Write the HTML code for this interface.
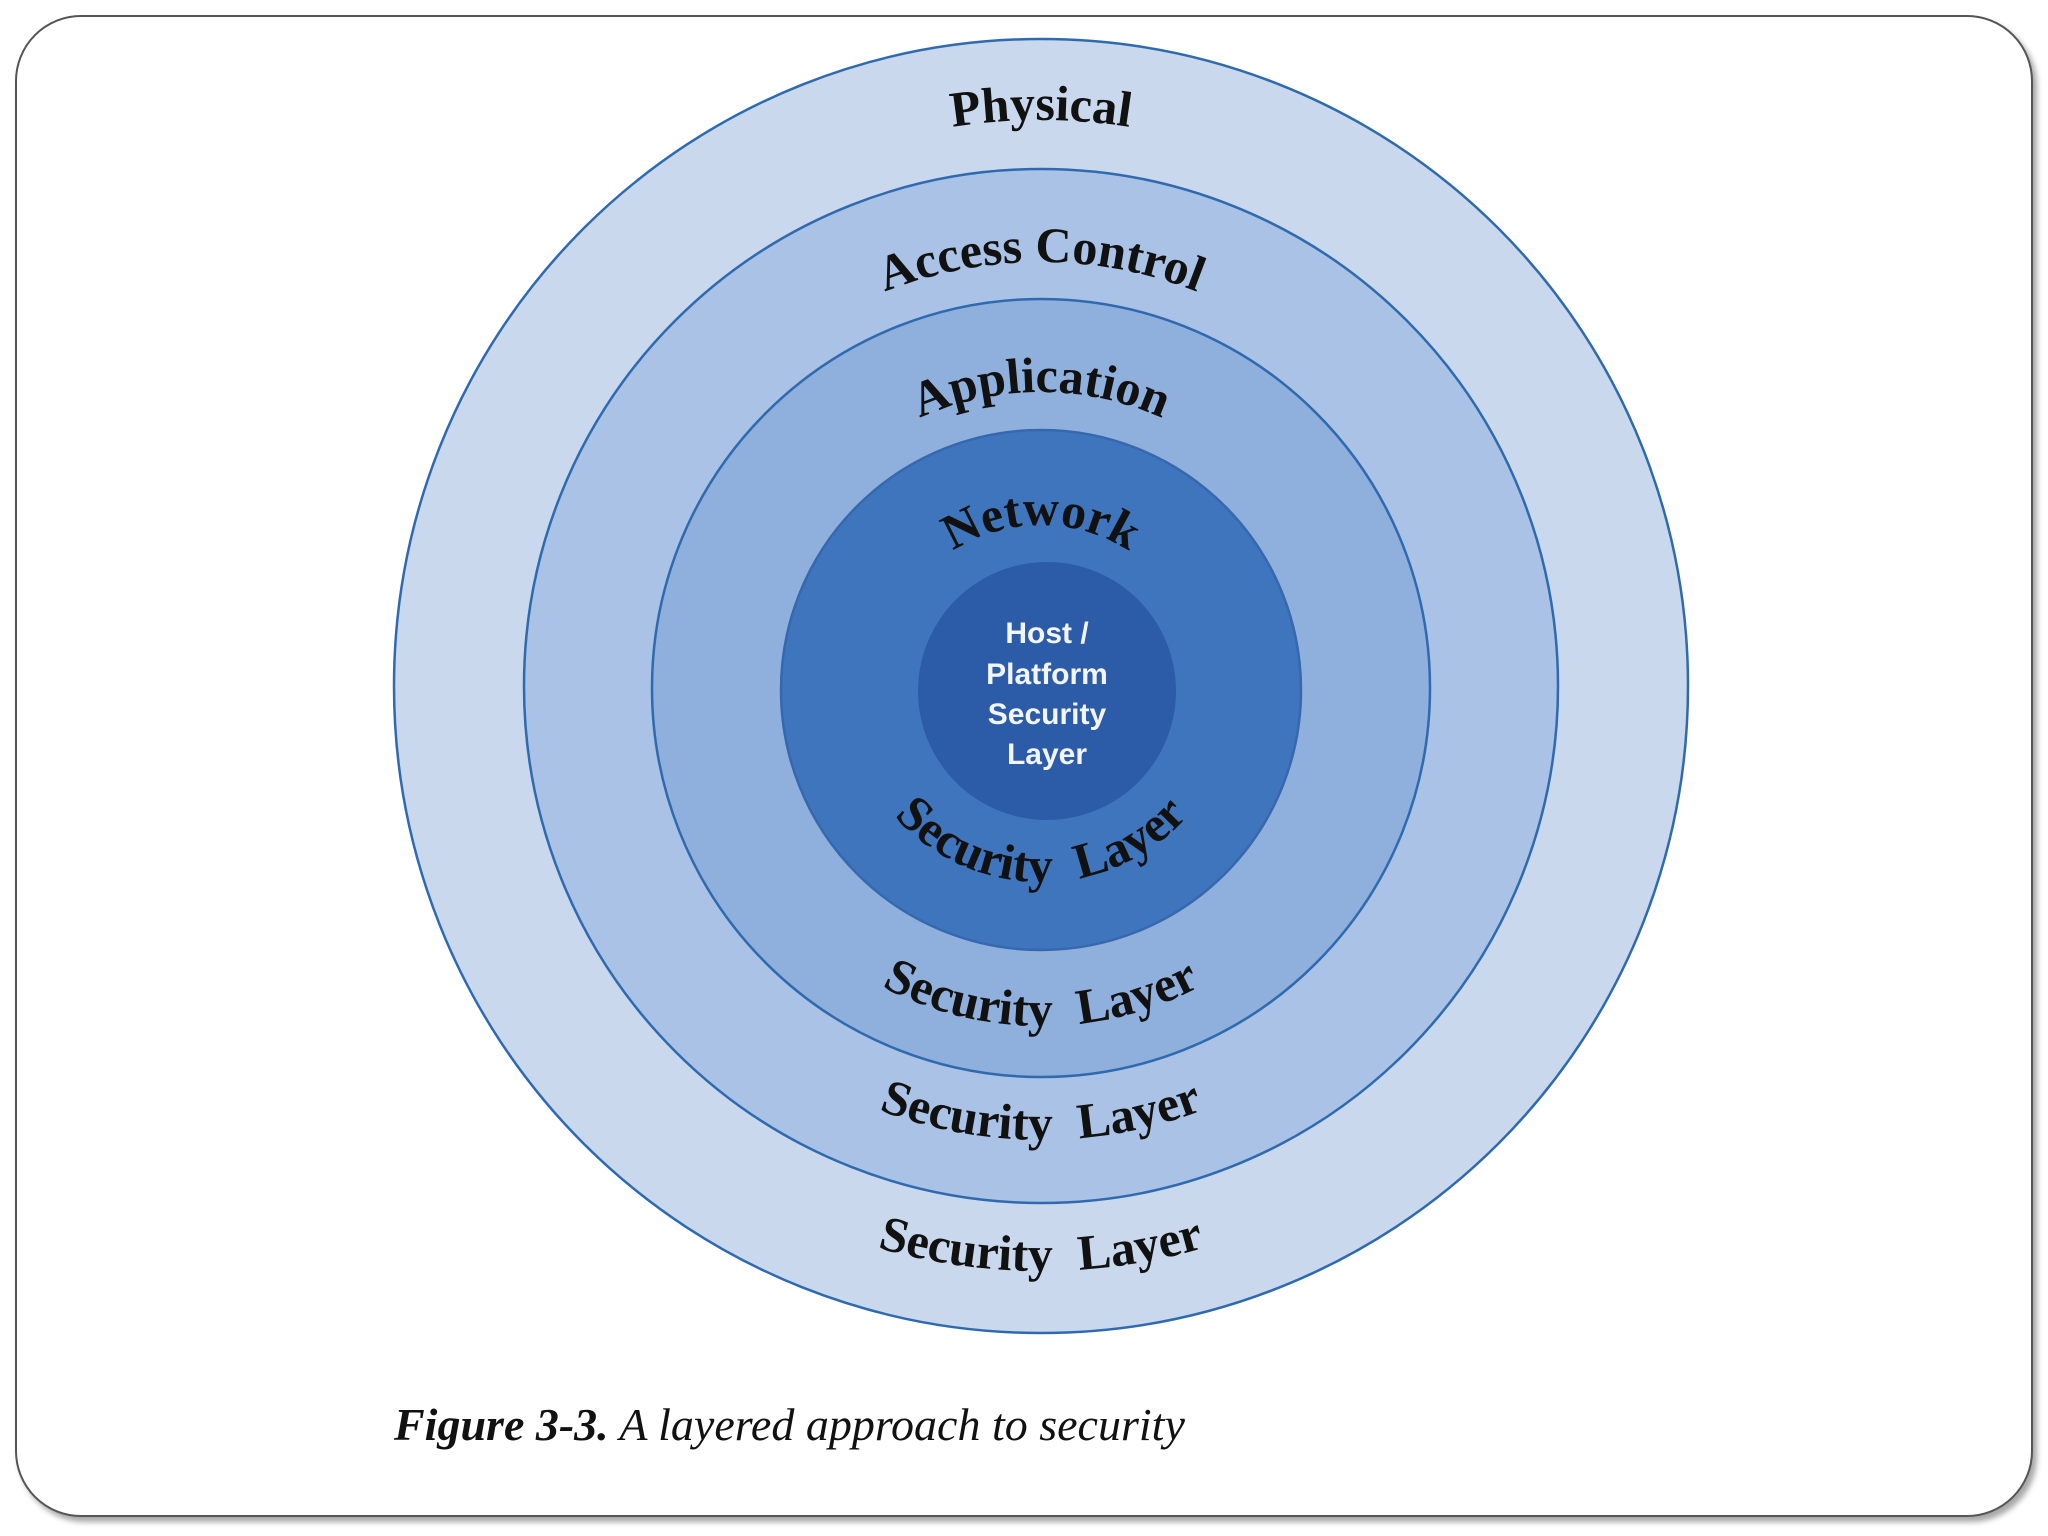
<!DOCTYPE html>
<html><head><meta charset="utf-8"><style>
html,body{margin:0;padding:0;background:#fff;width:2048px;height:1536px;overflow:hidden}
.frame{position:absolute;left:15px;top:15px;width:2014px;height:1498px;border:2px solid #555;border-radius:66px;box-shadow:4px 5px 6px rgba(0,0,0,0.35);background:#fff}
svg{position:absolute;left:0;top:0}
</style></head><body>
<div class="frame"></div>
<svg width="2048" height="1536" viewBox="0 0 2048 1536">
<defs>
<path id="t1" d="M475,686 A566,566 0 0 1 1607,686"/>
<path id="t2" d="M617,686 A424,424 0 0 1 1465,686"/>
<path id="t3" d="M747,686 A294,294 0 0 1 1335,686"/>
<path id="t4" d="M880,686 A161,161 0 0 1 1202,686"/>
<path id="b1" d="M845,686 A196,196 0 0 0 1237,686"/>
<path id="b2" d="M701,686 A340,340 0 0 0 1381,686"/>
<path id="b3" d="M587,686 A454,454 0 0 0 1495,686"/>
<path id="b4" d="M456,686 A585,585 0 0 0 1626,686"/>
</defs>
<g stroke="#2f6aaf" stroke-width="2.5">
<circle cx="1041" cy="686" r="647" fill="#c9d8ed"/>
<circle cx="1041" cy="686" r="517" fill="#a9c2e5"/>
<circle cx="1041" cy="688" r="389" fill="#8fb0dd"/>
<circle cx="1041" cy="690" r="260" fill="#3f75bd" stroke="#3568ae"/>
<circle cx="1047" cy="691" r="129" fill="#2c5ca7" stroke="none"/>
</g>
<g font-family="Liberation Serif, serif" font-weight="bold" font-size="50" fill="#111" text-anchor="middle">
<text><textPath href="#t1" startOffset="50%">Physical</textPath></text>
<text><textPath href="#t2" startOffset="50%">Access Control</textPath></text>
<text><textPath href="#t3" startOffset="50%">Application</textPath></text>
<text><textPath href="#t4" startOffset="50%">Network</textPath></text>
<text word-spacing="14"><textPath href="#b1" startOffset="50%">Security Layer</textPath></text>
<text word-spacing="14"><textPath href="#b2" startOffset="50%">Security Layer</textPath></text>
<text word-spacing="14"><textPath href="#b3" startOffset="50%">Security Layer</textPath></text>
<text word-spacing="14"><textPath href="#b4" startOffset="50%">Security Layer</textPath></text>
</g>
<g font-family="Liberation Sans, sans-serif" font-weight="bold" font-size="30" fill="#f2f5fb" text-anchor="middle">
<text x="1047" y="643">Host /</text>
<text x="1047" y="684">Platform</text>
<text x="1047" y="724">Security</text>
<text x="1047" y="764">Layer</text>
</g>
<text x="394" y="1440" font-family="Liberation Serif, serif" font-size="46" font-style="italic" fill="#111"><tspan font-weight="bold">Figure 3-3.</tspan>  A layered approach to security</text>
</svg>
</body></html>
